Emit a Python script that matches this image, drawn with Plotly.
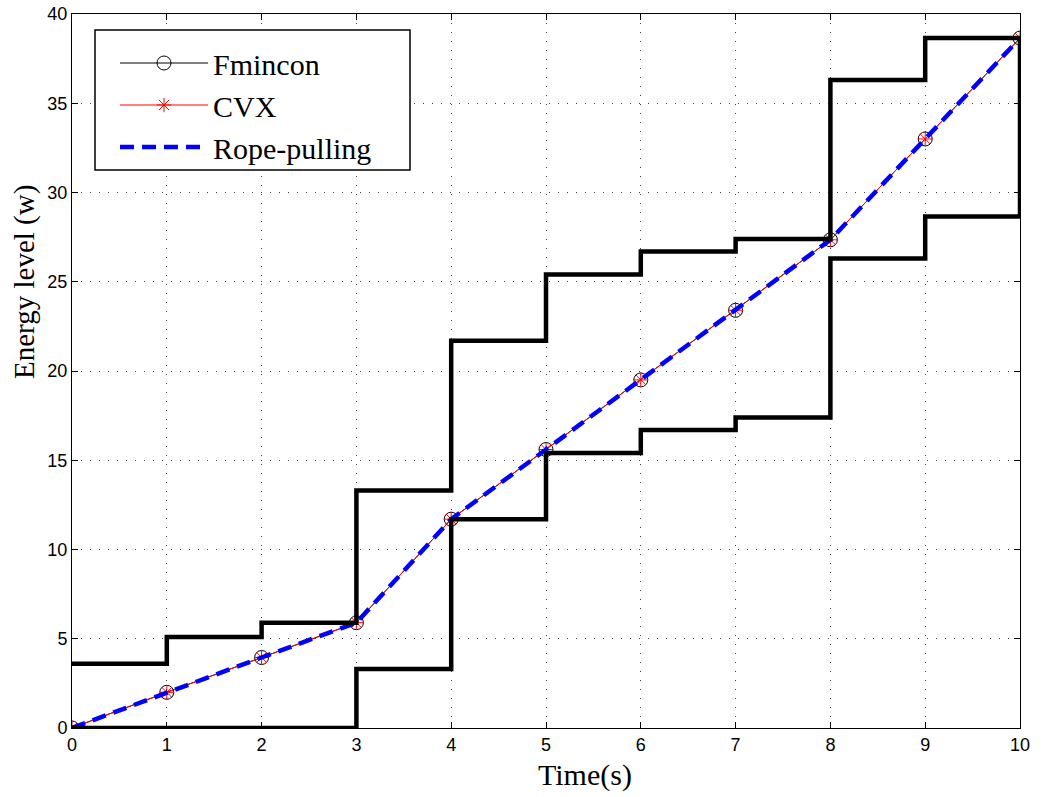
import plotly.graph_objects as go

# Data
time_s = [0, 1, 2, 3, 4, 5, 6, 7, 8, 9, 10]
fmincon = [0, 2.0, 3.95, 5.9, 11.7, 15.6, 19.5, 23.4, 27.35, 33.0, 38.65]
cvx = [0, 2.0, 3.95, 5.9, 11.7, 15.6, 19.5, 23.4, 27.35, 33.0, 38.65]
rope = [0, 2.0, 3.95, 5.9, 11.7, 15.6, 19.5, 23.4, 27.35, 33.0, 38.65]
upper_x = [0, 1, 2, 3, 4, 5, 6, 7, 8, 9, 10, 10]
upper_y = [3.6, 5.1, 5.9, 13.3, 21.7, 25.4, 26.7, 27.4, 36.3, 38.65, 38.65, 28.65]
lower_x = [0, 1, 2, 3, 4, 5, 6, 7, 8, 9, 10]
lower_y = [0, 0, 0, 3.3, 11.7, 15.4, 16.7, 17.4, 26.3, 28.65, 28.65]
x_ticks = [0, 1, 2, 3, 4, 5, 6, 7, 8, 9, 10]
y_ticks = [0, 5, 10, 15, 20, 25, 30, 35, 40]

SERIF = "Liberation Serif"
SANS = "Liberation Sans"

W, H = 1041, 797
L, R, T, B = 72, 21, 14, 69
PW, PH = W - L - R, H - T - B


def px_x(p):
    return (p - L) / PW


def px_y(p):
    return (H - B - p) / PH


fig = go.Figure()
fig.add_trace(go.Scatter(x=time_s, y=fmincon, name="Fmincon", mode="lines+markers",
                         line=dict(color="black", width=1),
                         marker=dict(symbol="circle-open", size=14, color="black",
                                     line=dict(width=1, color="black"))))
fig.add_trace(go.Scatter(x=time_s, y=cvx, name="CVX", mode="lines+markers",
                         line=dict(color="red", width=1),
                         marker=dict(symbol="asterisk-open", size=12, color="red",
                                     line=dict(width=1, color="red"))))
fig.add_trace(go.Scatter(x=time_s, y=rope, name="Rope-pulling", mode="lines",
                         line=dict(color="blue", width=4.5, dash="14px,8px")))
fig.add_trace(go.Scatter(x=upper_x, y=upper_y, mode="lines", line_shape="hv",
                         line=dict(color="black", width=4.5), showlegend=False,
                         hoverinfo="skip"))
fig.add_trace(go.Scatter(x=lower_x, y=lower_y, mode="lines", line_shape="hv",
                         line=dict(color="black", width=4.5), showlegend=False,
                         hoverinfo="skip"))

axis_common = dict(showline=True, linecolor="black", linewidth=1, mirror="ticks",
                   ticks="inside", ticklen=6, tickcolor="black", showgrid=True,
                   gridcolor="#444444", gridwidth=1, griddash="1px,8px",
                   zeroline=False, automargin=False,
                   tickfont=dict(family=SANS, size=18, color="black"))

fig.update_xaxes(range=[0, 10], tickvals=x_ticks, **axis_common)
fig.update_yaxes(range=[0, 40], tickvals=y_ticks, **axis_common)

fig.update_layout(
    width=W, height=H,
    margin=dict(l=L, r=R, t=T, b=B),
    plot_bgcolor="white", paper_bgcolor="white",
    showlegend=True,
    legend=dict(x=px_x(115), y=px_y(37), xanchor="left", yanchor="top",
                bgcolor="rgba(0,0,0,0)", borderwidth=0,
                font=dict(family=SERIF, size=30, color="black"),
                itemwidth=88, tracegroupgap=0),
    shapes=[
        dict(type="rect", xref="paper", yref="paper",
             x0=px_x(95), x1=px_x(410), y0=px_y(170), y1=px_y(30),
             fillcolor="white", line=dict(color="black", width=1.5), layer="above"),
    ],
    annotations=[
        dict(text="Time(s)", x=px_x(585), y=px_y(775), xref="paper", yref="paper",
             xanchor="center", yanchor="middle", showarrow=False,
             font=dict(family=SERIF, size=30, color="black")),
        dict(text="Energy level (w)", x=px_x(24), y=px_y(282), xref="paper", yref="paper",
             xanchor="center", yanchor="middle", showarrow=False, textangle=-90,
             font=dict(family=SERIF, size=29, color="black")),
    ],
)

fig.write_html("out.html")
